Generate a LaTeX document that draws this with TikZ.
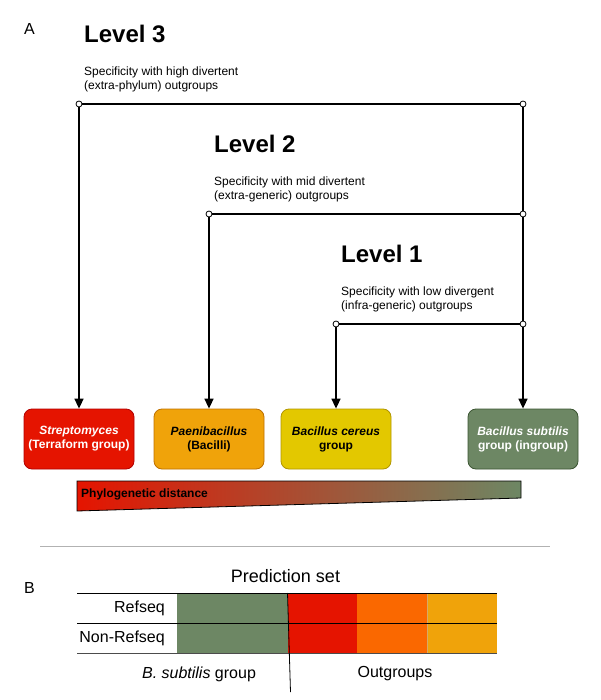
\documentclass[tikz,border=0pt]{standalone}
\usepackage{fontspec}
\setmainfont{Liberation Sans}
\usetikzlibrary{arrows.meta}
\definecolor{cred}{HTML}{E51400}
\definecolor{credS}{HTML}{B20000}
\definecolor{corg}{HTML}{F0A30A}
\definecolor{corgS}{HTML}{BD7000}
\definecolor{cyel}{HTML}{E3C800}
\definecolor{cyelS}{HTML}{B09500}
\definecolor{cgrn}{HTML}{6D8764}
\definecolor{cgrnS}{HTML}{3A5431}
\definecolor{corange}{HTML}{FA6800}
\tikzset{
  junc/.style={circle,draw=black,fill=white,line width=0.8pt,inner sep=0pt,minimum size=6pt},
  branch/.style={line width=1.6pt},
  arr/.style={line width=1.6pt,-{Triangle[length=10pt,width=9pt]}},
  taxbox/.style={rounded corners=8pt,minimum width=110pt,minimum height=60pt,align=center,inner sep=0pt,font=\fontsize{12}{14}\selectfont\bfseries,line width=0.8pt},
  lvl/.style={anchor=west,inner sep=0pt,font=\fontsize{24}{28}\selectfont\bfseries},
  spec/.style={anchor=west,inner sep=0pt,align=left,font=\fontsize{12}{14}\selectfont},
  lbl/.style={inner sep=0pt,font=\fontsize{16}{19}\selectfont},
}
\begin{document}
\begin{tikzpicture}[x=1pt,y=-1pt]
\useasboundingbox (0,0) rectangle (600,700);
% panel letters
\node[lbl,anchor=west] (A) at (24,29) {A};
\node[lbl,anchor=west] (B) at (24,588) {B};
% levels text
\node[lvl] (lv3) at (84,34) {Level 3};
\node[spec] (sp3) at (84,79) {Specificity with high divertent\\(extra-phylum) outgroups};
\node[lvl] (lv2) at (214,144) {Level 2};
\node[spec] (sp2) at (214,189) {Specificity with mid divertent\\(extra-generic) outgroups};
\node[lvl] (lv1) at (341,254) {Level 1};
\node[spec] (sp1) at (341,299) {Specificity with low divergent\\(infra-generic) outgroups};
% boxes
\node[taxbox,fill=cred,draw=credS,text=white] (strep) at (79,439) {\itshape Streptomyces\\(Terraform group)};
\node[taxbox,fill=corg,draw=corgS] (paeni) at (209,439) {\itshape Paenibacillus\\(Bacilli)};
\node[taxbox,fill=cyel,draw=cyelS] (cereus) at (336,439) {\itshape Bacillus cereus\\group};
\node[taxbox,fill=cgrn,draw=cgrnS,text=white] (subt) at (523,439) {\itshape Bacillus subtilis\\group (ingroup)};
% junctions
\node[junc] (j3a) at (79,104) {};
\node[junc] (j3b) at (523,104) {};
\node[junc] (j2a) at (209,214) {};
\node[junc] (j2b) at (523,214) {};
\node[junc] (j1a) at (336,324) {};
\node[junc] (j1b) at (523,324) {};
% branches
\draw[branch] (j3a) -- (j3b);
\draw[branch] (j2a) -- (j2b);
\draw[branch] (j1a) -- (j1b);
\draw[branch] (j3b) -- (j2b);
\draw[branch] (j2b) -- (j1b);
\draw[arr] (j3a) -- (strep.north);
\draw[arr] (j2a) -- (paeni.north);
\draw[arr] (j1a) -- (cereus.north);
\draw[arr] (j1b) -- (subt.north);
% phylogenetic distance wedge
\shade[left color=cred,right color=cgrn] (77,481) -- (521,481) -- (521,498) -- (77,511) -- cycle;
\draw[line width=0.8pt] (77,481) -- (521,481) -- (521,498) -- (77,511) -- cycle;
\node[anchor=west,inner sep=0pt,font=\fontsize{12}{14}\selectfont\bfseries] (phy) at (81,494) {Phylogenetic distance};
% separator
\draw[line width=0.8pt,gray!60] (40,546) -- (550,546);
% panel B table
\node[inner sep=0pt,font=\fontsize{18}{21}\selectfont] (pset) at (285.5,576) {Prediction set};
\fill[cgrn] (177,593) rectangle (288,653);
\fill[cred] (288,593) rectangle (357,653);
\fill[corange] (357,593) rectangle (427,653);
\fill[corg] (427,593) rectangle (497,653);
\draw[corgS!60,line width=0.5pt] (427,593) -- (427,653);
\draw[line width=0.8pt] (77,593) -- (497,593);
\draw[line width=0.8pt] (77,623) -- (497,623);
\draw[line width=0.8pt,black!70] (77,653) -- (497,653);
\coordinate (dtop) at (287.5,593);
\coordinate (dbot) at (290.5,692);
\draw[line width=0.8pt] (dtop) -- (dbot);
\node[lbl,anchor=east] (rs) at (165,608.5) {Refseq};
\node[lbl,anchor=east] (nrs) at (165,638.5) {Non-Refseq};
\node[lbl] (bsg) at (199,674) {\itshape B. subtilis\upshape{} group};
\node[lbl] (outg) at (395,674) {Outgroups};
\end{tikzpicture}
\end{document}
